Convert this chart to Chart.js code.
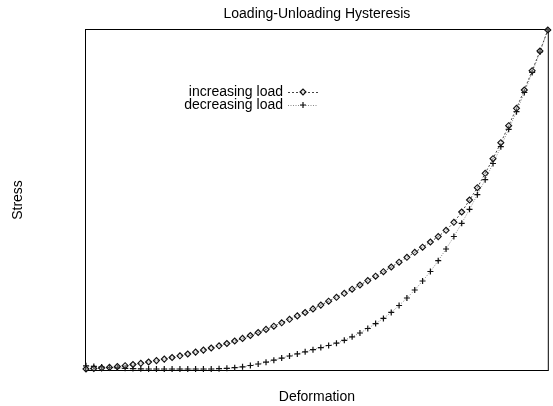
<!DOCTYPE html>
<html>
<head>
<meta charset="utf-8">
<script src="https://cdn.jsdelivr.net/npm/chart.js@4.4.0/dist/chart.umd.min.js"></script>
<style>
  html, body { margin: 0; padding: 0; background: #fff; }
  #wrap { width: 553px; height: 406px; }
</style>
</head>
<body>
<div id="wrap"><canvas id="hysteresis" width="553" height="406"></canvas></div>
<script>
// deformation steps (evenly spaced samples along the x axis)
const deformation = [
  0, 1, 2, 3, 4, 5, 6, 7, 8, 9, 10, 11, 12, 13, 14, 15, 16, 17, 18, 19,
  20, 21, 22, 23, 24, 25, 26, 27, 28, 29, 30, 31, 32, 33, 34, 35, 36, 37, 38, 39,
  40, 41, 42, 43, 44, 45, 46, 47, 48, 49, 50, 51, 52, 53, 54, 55, 56, 57, 58, 59
];

// stress while loading
const stressUp = [
  0, 0.5, 1, 1.6, 2.4, 3.3, 4.5, 5.7, 7, 8.4,
  9.9, 11.5, 13.2, 15, 16.9, 18.9, 21, 23.2, 25.5, 28,
  30.6, 33.5, 36.5, 39.6, 42.8, 46.2, 49.7, 53.1, 56.5, 60.1,
  63.9, 67.8, 71.7, 75.7, 79.8, 84, 88.4, 92.8, 97.3, 102,
  106.8, 111.7, 116.7, 121.8, 127, 132.4, 138.7, 146.7, 157, 169,
  181.3, 195.7, 210.3, 226.3, 243.3, 260.7, 279, 298.3, 318, 339
];

// stress while unloading
const stressDown = [
  3.2, 2.6, 2, 1.5, 1.1, 0.7, 0.4, 0.2, 0, 0,
  0, 0, 0, 0, 0, 0, 0, 0.3, 0.7, 1.3,
  2.2, 3.5, 5, 6.8, 8.8, 10.9, 13, 15.1, 17.2, 19.3,
  21.4, 23.5, 25.8, 28.7, 32.2, 36, 40.5, 45.4, 50.6, 56.6,
  63.5, 71, 79, 88, 97.5, 108.3, 120, 132.5, 145.7, 159.7,
  174.3, 189.3, 205.5, 222.3, 239.7, 257.3, 276.5, 296.5, 317, 339
];

const seriesLabels = ["increasing load", "decreasing load"];

Chart.defaults.font.family = "'Liberation Sans', Arial, sans-serif";
Chart.defaults.font.size = 14;
Chart.defaults.color = "#000";

// plot frame like the gnuplot border
const framePlugin = {
  id: "frame",
  beforeDatasetsDraw(chart) {
    const { ctx, chartArea: a } = chart;
    ctx.save();
    ctx.strokeStyle = "#000";
    ctx.lineWidth = 1;
    ctx.strokeRect(a.left - 0.5, a.top - 0.5, a.right - a.left + 1, a.bottom - a.top + 1);
    ctx.restore();
  }
};

// legend inside the plot: label on the left, sample on the right
const keyPlugin = {
  id: "key",
  afterDraw(chart) {
    const { ctx } = chart;
    const textRight = 283;
    const sampleLeft = 288;
    const sampleRight = 318;
    ctx.save();
    chart.data.datasets.forEach((ds, i) => {
      const y = 92 + i * 13;
      ctx.fillStyle = "#000";
      ctx.font = "14px 'Liberation Sans', Arial, sans-serif";
      ctx.textAlign = "right";
      ctx.textBaseline = "middle";
      ctx.fillText(ds.label, textRight, y);

      ctx.strokeStyle = ds.borderColor;
      ctx.lineWidth = ds.borderWidth;
      ctx.setLineDash(ds.borderDash);
      ctx.beginPath();
      ctx.moveTo(sampleLeft, y + 0.5);
      ctx.lineTo(sampleRight, y + 0.5);
      ctx.stroke();
      ctx.setLineDash([]);

      ctx.strokeStyle = ds.pointBorderColor;
      ctx.fillStyle = ds.pointBackgroundColor;
      ctx.lineWidth = ds.pointBorderWidth;
      Chart.helpers.drawPoint(ctx, {
        pointStyle: ds.pointStyle,
        radius: ds.pointRadius,
        rotation: 0,
        borderWidth: ds.pointBorderWidth
      }, (sampleLeft + sampleRight) / 2, y);
    });
    ctx.restore();
  }
};

new Chart(document.getElementById("hysteresis"), {
  type: "line",
  data: {
    datasets: [
      {
        label: seriesLabels[0],
        data: deformation.map((d, i) => ({ x: d, y: stressUp[i] })),
        borderColor: "#444",
        borderWidth: 1,
        borderDash: [2, 2],
        pointStyle: "rectRot",
        pointRadius: 3,
        pointBorderWidth: 1.1,
        pointBorderColor: "#111",
        pointBackgroundColor: "rgba(190,190,190,0.35)",
        tension: 0,
        clip: false
      },
      {
        label: seriesLabels[1],
        data: deformation.map((d, i) => ({ x: d, y: stressDown[i] })),
        borderColor: "#888",
        borderWidth: 1,
        borderDash: [1, 1.5],
        pointStyle: "cross",
        pointRadius: 3,
        pointBorderWidth: 1.2,
        pointBorderColor: "#111",
        pointBackgroundColor: "#111",
        tension: 0,
        clip: false
      }
    ]
  },
  options: {
    responsive: false,
    devicePixelRatio: 1,
    animation: false,
    layout: { padding: { left: 0, right: 1, top: 0, bottom: 0 } },
    plugins: {
      legend: { display: false },
      tooltip: { enabled: false }
    },
    scales: {
      x: {
        type: "linear",
        position: "bottom",
        min: 0,
        max: 59,
        ticks: { display: false },
        grid: { display: false },
        border: { display: false },
        title: { display: true, text: "Deformation", padding: { top: 0, bottom: 0 } },
        afterFit(scale) { scale.height = 36; }
      },
      top: {
        type: "linear",
        position: "top",
        ticks: { display: false },
        grid: { display: false },
        border: { display: false },
        title: { display: true, text: "Loading-Unloading Hysteresis", padding: { top: 6, bottom: 0 } },
        afterFit(scale) { scale.height = 30; }
      },
      y: {
        min: -1,
        max: 339,
        ticks: { display: false },
        grid: { display: false },
        border: { display: false },
        title: { display: true, text: "Stress", padding: { top: 10, bottom: 0 } },
        afterFit(scale) { scale.width = 86; }
      }
    }
  },
  plugins: [framePlugin, keyPlugin]
});
</script>
</body>
</html>
